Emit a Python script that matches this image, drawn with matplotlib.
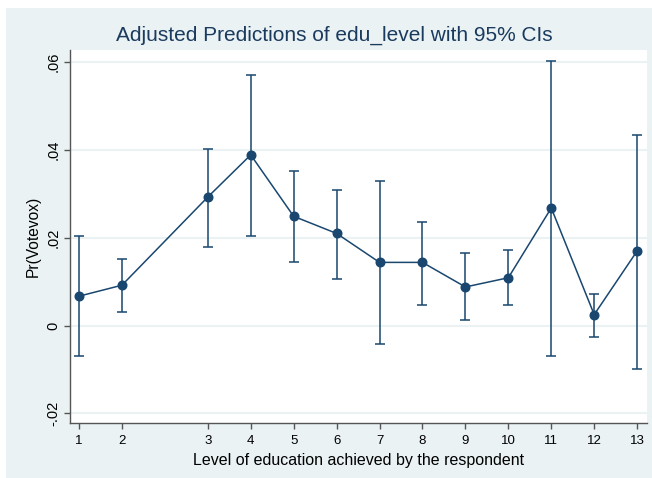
import matplotlib
matplotlib.use("Agg")
import matplotlib.pyplot as plt
from matplotlib.patches import Rectangle

# Data
positions = [1, 2, 4, 5, 6, 7, 8, 9, 10, 11, 12, 13, 14]
tick_labels = ["1", "2", "3", "4", "5", "6", "7", "8", "9", "10", "11", "12", "13"]
pred = [0.0067, 0.0092, 0.0293, 0.0389, 0.0249, 0.0210, 0.0144, 0.0144, 0.0088, 0.0109, 0.0268, 0.0025, 0.0170]
ci_low = [-0.0070, 0.0030, 0.0180, 0.0204, 0.0144, 0.0106, -0.0041, 0.0048, 0.0012, 0.0046, -0.0069, -0.0026, -0.0098]
ci_high = [0.0204, 0.0151, 0.0402, 0.0572, 0.0352, 0.0310, 0.0329, 0.0237, 0.0166, 0.0172, 0.0603, 0.0072, 0.0434]
y_ticks = [-0.02, 0, 0.02, 0.04, 0.06]
y_tick_labels = ["-.02", "0", ".02", ".04", ".06"]

plt.rcParams['font.family'] = ['Liberation Sans', 'DejaVu Sans']

W, H = 652, 478
fig = plt.figure(figsize=(W / 100, H / 100), dpi=100)
fig.patch.set_facecolor("white")
bg = "#EAF2F3"
fig.add_artist(Rectangle((6 / W, 0), 1 - 6 / W, 1 - 8 / H, transform=fig.transFigure,
                         facecolor=bg, edgecolor="none", zorder=-10))

ax = fig.add_axes([70 / W, 1 - 423 / H, (647 - 70) / W, (423 - 50) / H])
ax.set_facecolor("white")
navy = "#1a476f"

yerr = [[p - l for p, l in zip(pred, ci_low)], [h - p for p, h in zip(pred, ci_high)]]
ax.errorbar(positions, pred, yerr=yerr, fmt="none", ecolor=navy, elinewidth=1.1,
            capsize=3.6, capthick=1.1, zorder=2)
ax.plot(positions, pred, color=navy, lw=1.1, marker="o", markersize=6.2,
        markerfacecolor=navy, markeredgecolor=navy, zorder=3)

ax.set_xlim(0.79, 14.23)
ax.set_ylim(-0.0222, 0.0628)
ax.set_xticks(positions)
ax.set_xticklabels(tick_labels, fontsize=9.5)
ax.set_yticks(y_ticks)
ax.set_yticklabels(y_tick_labels, fontsize=10.5, rotation=90, va="center")
ax.yaxis.grid(True, color=bg, lw=1.5, zorder=0)
ax.set_axisbelow(True)

for s in ["top", "right"]:
    ax.spines[s].set_visible(False)
for s in ["left", "bottom"]:
    ax.spines[s].set_color("#555555")
    ax.spines[s].set_linewidth(1.0)
ax.tick_params(axis="both", direction="out", length=4.5, width=1.0, color="#555555",
               labelcolor="black", pad=2.5)
ax.tick_params(axis="x", pad=4.5)

ax.set_xlabel("Level of education achieved by the respondent", fontsize=11.5, labelpad=4)
ax.set_ylabel("Pr(Votevox)", fontsize=11.2, labelpad=4)

fig.text(334.5 / W, 1 - 35 / H, "Adjusted Predictions of edu_level with 95% CIs",
         ha="center", va="center", fontsize=15, color="#1a3a5e")

fig.savefig("out.png", dpi=100)
